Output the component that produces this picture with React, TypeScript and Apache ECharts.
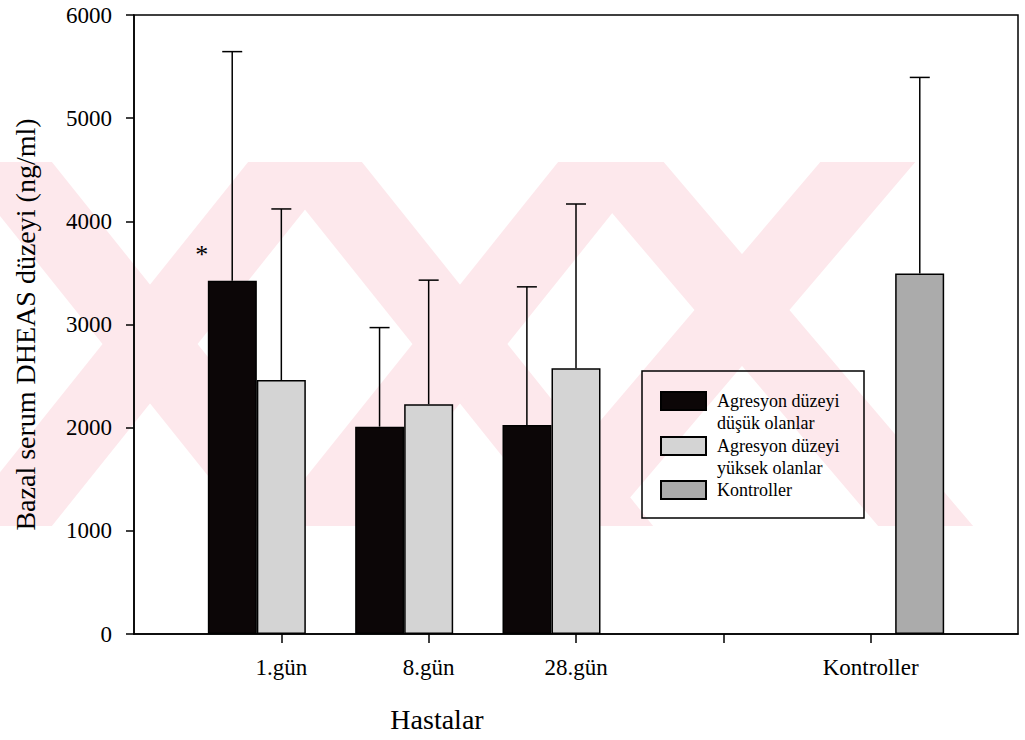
import React, { useEffect, useRef } from "react";
import * as echarts from "echarts";

// ---- data ----
const categories = ["", "1.gün", "8.gün", "28.gün", "", "Kontroller", ""];
const seriesNames = [
  "Agresyon düzeyi\ndüşük olanlar",
  "Agresyon düzeyi\nyüksek olanlar",
  "Kontroller",
];
const lowMeans = [null, 3425, 2010, 2026, null, null, null];
const lowUpper = [null, 5645, 2970, 3365, null, null, null];
const highMeans = [null, 2462, 2228, 2575, null, null, null];
const highUpper = [null, 4120, 3430, 4168, null, null, null];
const controlMeans = [null, null, null, null, null, 3494, null];
const controlUpper = [null, null, null, null, null, 5395, null];
const lowMarks = ["", "*", "", "", "", "", ""];
const yMin = 0;
const yMax = 6000;
const yStep = 1000;
const yAxisTitle = "Bazal serum DHEAS düzeyi (ng/ml)";
const xAxisTitle = "Hastalar";

const FONT = "'Liberation Serif', 'Times New Roman', serif";
const PINK = "#fde8ec";

function xShape(cx: number, cy: number, w: number, s: number, top: number, bottom: number) {
  const a1t = cx - (cy - top) * s;
  const a1b = cx + (bottom - cy) * s;
  const a2t = cx + (cy - top) * s;
  const a2b = cx - (bottom - cy) * s;
  const h = w / 2;
  return [
    [[a1t - h, top], [a1t + h, top], [a1b + h, bottom], [a1b - h, bottom]],
    [[a2t - h, top], [a2t + h, top], [a2b + h, bottom], [a2b - h, bottom]],
  ];
}

export default function App() {
  const ref = useRef<HTMLDivElement>(null);
  useEffect(() => {
    if (!ref.current) return;
    const chart = echarts.init(ref.current, undefined, { renderer: "svg" });

    const colors = ["#0c0607", "#d4d4d4", "#ababab"];
    const means = [lowMeans, highMeans, controlMeans];
    const uppers = [lowUpper, highUpper, controlUpper];

    const wm: any[] = [];
    [
      [150, 344, 0.8],
      [460, 344, 0.8],
      [742, 310, 0.85],
    ].forEach(([cx, cy, s]) => {
      xShape(cx, cy, 95, s, 162, 526).forEach((pts) =>
        wm.push({
          type: "polygon",
          silent: true,
          z: -10,
          shape: { points: pts },
          style: { fill: PINK },
        })
      );
    });
    wm.push({
      type: "rect",
      silent: true,
      z: 10,
      shape: { x: 642, y: 371, width: 222, height: 147 },
      style: { fill: "none", stroke: "#000", lineWidth: 1.5 },
    });

    const barSeries = means.map((arr, k) => ({
      type: "bar",
      name: seriesNames[k],
      barWidth: 49,
      barGap: "0%",
      itemStyle: { color: colors[k], borderColor: "#000", borderWidth: 1.5 },
      data: arr.map((v, i) =>
        v == null
          ? "-"
          : k === 0 && lowMarks[i]
          ? {
              value: v,
              label: {
                show: true,
                formatter: lowMarks[i],
                position: [-6, -26],
                align: "center",
                verticalAlign: "middle",
                fontFamily: FONT,
                fontSize: 26,
                color: "#000",
              },
            }
          : v
      ),
    }));

    const errSeries = means.map((arr, k) => ({
      type: "custom",
      name: "err" + k,
      z: 3,
      data: arr
        .map((v, i) => (v == null ? null : [i, uppers[k][i], v]))
        .filter((d) => d !== null),
      encode: { x: 0, y: 1 },
      renderItem: (params: any, api: any) => {
        const idx = api.value(0);
        const top = api.coord([idx, api.value(1)]);
        const base = api.coord([idx, api.value(2)]);
        const band = api.size([1, 0])[0];
        const x = top[0] + ((k - 1) * band) / 3;
        const st = { stroke: "#000", lineWidth: 1.5 };
        return {
          type: "group",
          children: [
            { type: "line", shape: { x1: x, y1: base[1], x2: x, y2: top[1] }, style: st },
            { type: "line", shape: { x1: x - 10, y1: top[1], x2: x + 10, y2: top[1] }, style: st },
          ],
        };
      },
    }));

    const legendBase = {
      orient: "vertical",
      padding: 0,
      itemWidth: 45,
      itemHeight: 18,
      itemGap: 0,
      icon: "rect",
      selectedMode: false,
      left: 660,
      textStyle: { fontFamily: FONT, fontSize: 18, lineHeight: 22, color: "#000", padding: [0, 0, 0, 6] },
    };
    const twoLine = (name: string) => "\n" + name;

    chart.setOption({
      animation: false,
      backgroundColor: "#fff",
      graphic: wm,
      legend: [
        { ...legendBase, top: 368, formatter: twoLine, data: [seriesNames[0]] },
        { ...legendBase, top: 413, formatter: twoLine, data: [seriesNames[1]] },
        { ...legendBase, top: 479, data: [seriesNames[2]] },
      ],
      grid: {
        left: 134,
        top: 15,
        right: 7,
        bottom: 106,
        show: true,
        borderColor: "#000",
        borderWidth: 1.5,
        backgroundColor: "transparent",
      },
      xAxis: {
        type: "category",
        data: categories,
        boundaryGap: false,
        name: xAxisTitle,
        nameLocation: "middle",
        nameGap: 71,
        nameTextStyle: { fontFamily: FONT, fontSize: 28, color: "#000", padding: [0, 278, 0, 0] },
        axisLine: { lineStyle: { color: "#000", width: 1.5 } },
        axisTick: {
          length: 9,
          lineStyle: { color: "#000", width: 1.5 },
          interval: (i: number) => i > 0 && i < categories.length - 1,
        },
        axisLabel: { interval: 0, margin: 22, fontFamily: FONT, fontSize: 23, color: "#000" },
        splitLine: { show: false },
      },
      yAxis: {
        type: "value",
        min: yMin,
        max: yMax,
        interval: yStep,
        name: yAxisTitle,
        nameLocation: "middle",
        nameGap: 95,
        nameTextStyle: { fontFamily: FONT, fontSize: 28, color: "#000" },
        axisLine: { show: true, lineStyle: { color: "#000", width: 1.5 } },
        axisTick: { show: true, length: 8, lineStyle: { color: "#000", width: 1.5 } },
        axisLabel: {
          margin: 22,
          fontFamily: FONT,
          fontSize: 23,
          color: "#000",
          formatter: (v: number) => String(v),
        },
        splitLine: { show: false },
      },
      series: [...barSeries, ...errSeries],
    });
    return () => chart.dispose();
  }, []);
  return (
    <div
      ref={ref}
      style={{ position: "fixed", left: 0, top: 0, width: 1025, height: 740, background: "#fff" }}
    />
  );
}
